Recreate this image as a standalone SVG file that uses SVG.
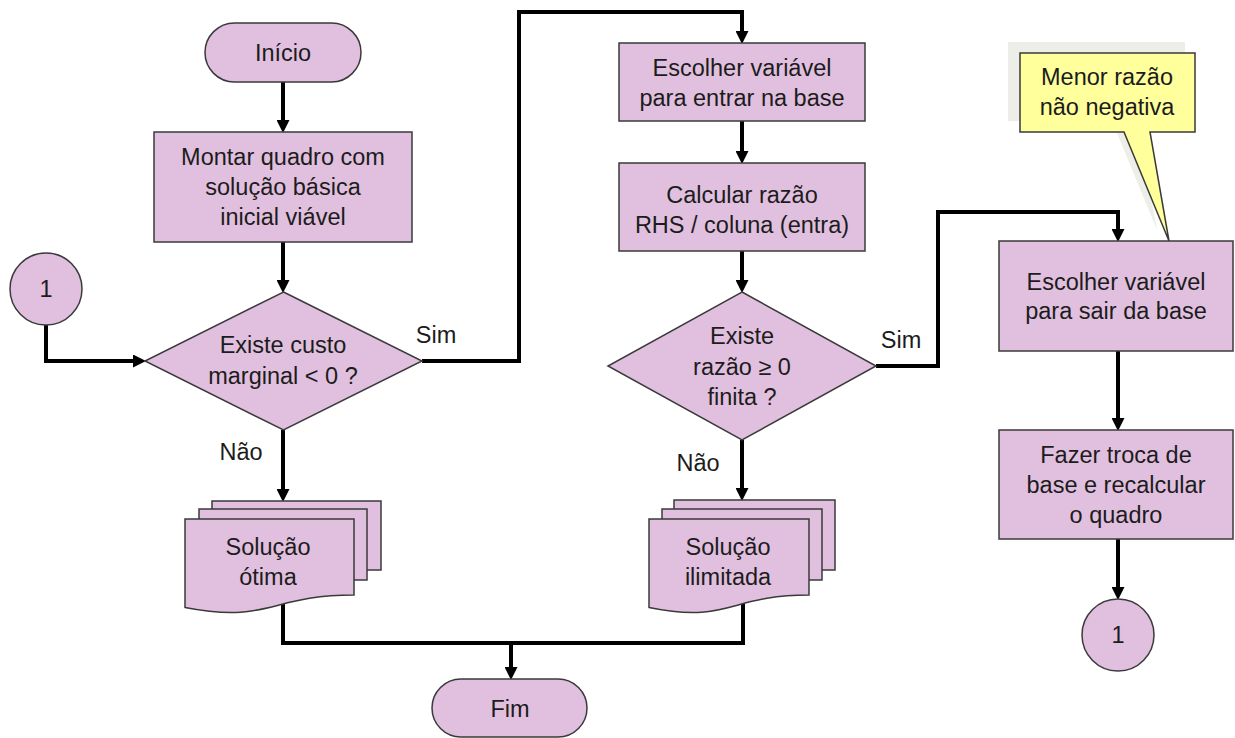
<svg xmlns="http://www.w3.org/2000/svg" width="1235" height="738" viewBox="0 0 1235 738">
<style>
.n{fill:#e1c0df;stroke:#3a3a3a;stroke-width:1.5}
.t{font-family:"Liberation Sans",Arial,sans-serif;font-size:23.5px;fill:#1c1c1c;text-anchor:middle}
.c{fill:none;stroke:#000;stroke-width:4}
.y{fill:#ffff9c;stroke:#3a3a3a;stroke-width:1.5}
</style>
<defs>
<marker id="ah" markerUnits="userSpaceOnUse" markerWidth="13" markerHeight="13" viewBox="0 0 13 13" refX="4" refY="6.5" orient="auto">
<path d="M0,0 L13,6.5 L0,13 Z" fill="#000"/>
</marker>
</defs>
<rect width="1235" height="738" fill="#fff"/>
<g id="connectors">
<path class="c" d="M283,82 V124" marker-end="url(#ah)"/>
<path class="c" d="M283,242 V284" marker-end="url(#ah)"/>
<path class="c" d="M46,325 V361 H137" marker-end="url(#ah)"/>
<path class="c" d="M422,361 H519 V12 H742 V35" marker-end="url(#ah)"/>
<path class="c" d="M283,430 V493" marker-end="url(#ah)"/>
<path class="c" d="M742,121 V155" marker-end="url(#ah)"/>
<path class="c" d="M742,251 V284" marker-end="url(#ah)"/>
<path class="c" d="M742,440 V492" marker-end="url(#ah)"/>
<path class="c" d="M876,366 H938 V212 H1118 V233" marker-end="url(#ah)"/>
<path class="c" d="M1118,351 V422" marker-end="url(#ah)"/>
<path class="c" d="M1118,539 V591" marker-end="url(#ah)"/>
<path class="c" d="M283,598 V643 H743 V598"/>
<path class="c" d="M511,643 V671" marker-end="url(#ah)"/>
<text class="t" x="436" y="343">Sim</text>
<text class="t" x="241" y="460">Não</text>
<text class="t" x="901" y="348">Sim</text>
<text class="t" x="698" y="471">Não</text>
</g>
<g id="inicio">
<rect class="n" x="205" y="23" width="156" height="59" rx="29.5"/>
<text class="t" x="283" y="61">Início</text>
</g>
<g id="montar">
<rect class="n" x="154" y="132" width="258" height="110"/>
<text class="t" x="283" y="165">Montar quadro com</text>
<text class="t" x="283" y="195">solução básica</text>
<text class="t" x="283" y="225">inicial viável</text>
</g>
<g id="conector1a">
<circle class="n" cx="46" cy="289" r="36"/>
<text class="t" x="46" y="297">1</text>
</g>
<g id="decisao1">
<polygon class="n" points="283.5,292 422,361 283.5,430 145,361"/>
<text class="t" x="283" y="353">Existe custo</text>
<text class="t" x="283" y="384">marginal &lt; 0 ?</text>
</g>
<g id="otima">
<rect class="n" x="212" y="501" width="169" height="69"/>
<rect class="n" x="199" y="509" width="168" height="71"/>
<path class="n" d="M185,519 H354 V595 C269.5,595 269.5,624 185,607.5 Z"/>
<text class="t" x="268" y="555">Solução</text>
<text class="t" x="268" y="585">ótima</text>
</g>
<g id="fim">
<rect class="n" x="432" y="679" width="155" height="58" rx="29"/>
<text class="t" x="510" y="717">Fim</text>
</g>
<g id="entrar">
<rect class="n" x="619" y="43" width="246" height="78"/>
<text class="t" x="742" y="76">Escolher variável</text>
<text class="t" x="742" y="106">para entrar na base</text>
</g>
<g id="calcular">
<rect class="n" x="619" y="163" width="246" height="88"/>
<text class="t" x="742" y="203">Calcular razão</text>
<text class="t" x="742" y="233">RHS / coluna (entra)</text>
</g>
<g id="decisao2">
<polygon class="n" points="742,292 876,366 742,440 608,366"/>
<text class="t" x="742" y="344">Existe</text>
<text class="t" x="742" y="375">razão ≥ 0</text>
<text class="t" x="742" y="405">finita ?</text>
</g>
<g id="ilimitada">
<rect class="n" x="674" y="500" width="161" height="70"/>
<rect class="n" x="662" y="509" width="160" height="71"/>
<path class="n" d="M649,519 H809 V595 C729,595 729,624 649,607.5 Z"/>
<text class="t" x="728" y="555">Solução</text>
<text class="t" x="728" y="585">ilimitada</text>
</g>
<g id="sair">
<rect class="n" x="999" y="241" width="234" height="110"/>
<text class="t" x="1116" y="290">Escolher variável</text>
<text class="t" x="1116" y="319">para sair da base</text>
</g>
<g id="troca">
<rect class="n" x="999" y="430" width="234" height="109"/>
<text class="t" x="1116" y="463">Fazer troca de</text>
<text class="t" x="1116" y="493">base e recalcular</text>
<text class="t" x="1116" y="523">o quadro</text>
</g>
<g id="conector1b">
<circle class="n" cx="1118" cy="635" r="36"/>
<text class="t" x="1118" y="643">1</text>
</g>
<g id="nota">
<path d="M1008,42 H1185 V121 H1138 L1157,230 L1112,121 H1008 Z" fill="#eeeee8"/>
<path class="y" d="M1020,53 H1195 V132 H1150 L1169,241 L1124,132 H1020 Z"/>
<text class="t" x="1107" y="85">Menor razão</text>
<text class="t" x="1107" y="115">não negativa</text>
</g>
</svg>
